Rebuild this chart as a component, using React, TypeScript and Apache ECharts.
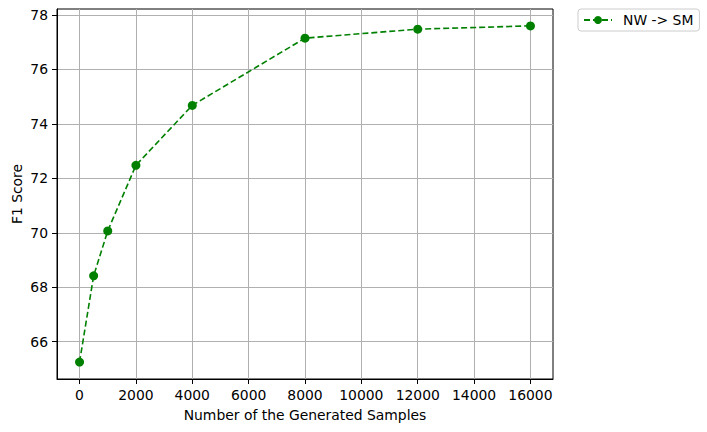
import React, { useEffect, useRef } from "react";
import * as echarts from "echarts";

const samples = [0, 500, 1000, 2000, 4000, 8000, 12000, 16000];
const f1Scores = [65.25, 68.42, 70.07, 72.48, 74.68, 77.15, 77.48, 77.6];
const xTicks = [0, 2000, 4000, 6000, 8000, 10000, 12000, 14000, 16000];
const yTicks = [66, 68, 70, 72, 74, 76, 78];
const seriesName = "NW -> SM";

const FONT = "DejaVu Sans";
const FS = 13.9;

export default function App() {
  const ref = useRef<HTMLDivElement>(null);
  useEffect(() => {
    if (!ref.current) return;
    const chart = echarts.init(ref.current, undefined, { renderer: "svg" });
    chart.setOption({
      animation: false,
      backgroundColor: "#fff",
      textStyle: { fontFamily: FONT },
      grid: {
        left: 57,
        top: 9,
        width: 496,
        height: 370,
        containLabel: false,
        outerBoundsMode: "none",
        show: true,
        borderColor: "#000",
        borderWidth: 1,
        backgroundColor: "transparent",
      },
      legend: {
        left: 578,
        top: 9,
        itemWidth: 28,
        itemHeight: 10,
        padding: [4, 6, 4, 5],
        borderColor: "#ccc",
        borderWidth: 1,
        borderRadius: 3,
        textStyle: { fontFamily: FONT, fontSize: FS, color: "#000", padding: [1, 0, 0, 6] },
        data: [seriesName],
      },
      xAxis: {
        type: "value",
        min: -800,
        max: 16800,
        name: "Number of the Generated Samples",
        nameLocation: "middle",
        nameGap: 29,
        nameMoveOverlap: false,
        nameTextStyle: { fontFamily: FONT, fontSize: FS, color: "#000" },
        axisLine: { show: true, onZero: false, lineStyle: { color: "#000", width: 1 } },
        axisTick: { show: true, length: 5, lineStyle: { color: "#000" }, customValues: xTicks },
        axisLabel: {
          fontFamily: FONT,
          fontSize: FS,
          color: "#000",
          margin: 9,
          customValues: xTicks,
          formatter: (v: number) => String(v),
        },
        splitLine: { show: true, lineStyle: { color: "#b0b0b0", width: 1 } },
      },
      yAxis: {
        type: "value",
        min: 64.63,
        max: 78.22,
        name: "F1 Score",
        nameLocation: "middle",
        nameGap: 33,
        nameMoveOverlap: false,
        nameTextStyle: { fontFamily: FONT, fontSize: FS, color: "#000" },
        axisLine: { show: true, onZero: false, lineStyle: { color: "#000", width: 1 } },
        axisTick: { show: true, length: 5, lineStyle: { color: "#000" }, customValues: yTicks },
        axisLabel: {
          fontFamily: FONT,
          fontSize: FS,
          color: "#000",
          margin: 9,
          customValues: yTicks,
          formatter: (v: number) => String(Math.round(v)),
        },
        splitLine: { show: true, lineStyle: { color: "#b0b0b0", width: 1 } },
      },
      series: [
        {
          name: seriesName,
          type: "line",
          data: samples.map((s, i) => [s, f1Scores[i]]),
          symbol: "circle",
          symbolSize: 9,
          itemStyle: { color: "#008000" },
          lineStyle: { color: "#008000", width: 1.6, type: [6, 3] },
        },
      ],
    });
    return () => chart.dispose();
  }, []);
  return <div ref={ref} style={{ width: 707, height: 432, position: "absolute", left: 0, top: 0 }} />;
}
